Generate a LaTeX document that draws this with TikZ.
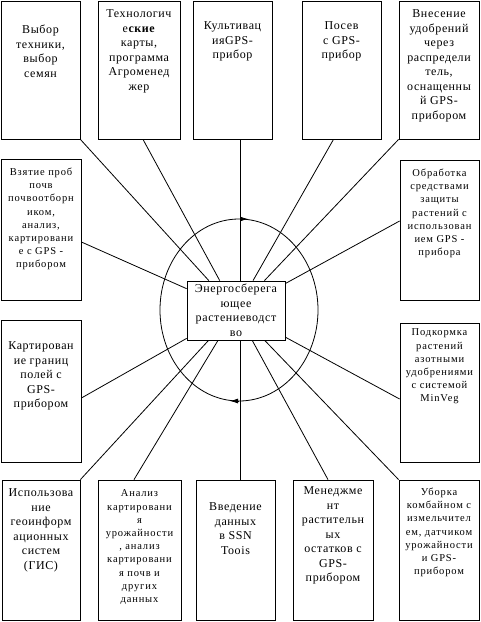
\documentclass[tikz,border=0pt]{standalone}
\usepackage{fontspec}
\setmainfont{Liberation Serif}
\newfontfamily\bigfont[LetterSpace=5]{Liberation Serif}
\newfontfamily\smallfont[LetterSpace=8]{Liberation Serif}
\usepackage{tikz}
\usetikzlibrary{arrows.meta,positioning}

\begin{document}
\begin{tikzpicture}[x=1pt,y=-1pt,line width=0.8pt,
    obox/.style={draw,rectangle,minimum width=79pt,minimum height=140pt,inner sep=0pt},
    btxt/.style={align=center,inner sep=0pt,font=\bigfont\fontsize{12}{14.5}\selectfont},
    stxt/.style={align=center,inner sep=0pt,font=\smallfont\fontsize{10.5}{13.2}\selectfont}]
  \useasboundingbox (0,0) rectangle (480,622);

  % top row
  \node[obox,minimum height=138pt] (t1) at (40.5,70) {};
  \node[btxt,below=24pt of t1.north] (t1x) {Выбор\\техники,\\выбор\\семян};
  \node[obox,minimum width=82pt,minimum height=138pt] (t2) at (139,70) {};
  \node[btxt,below=9pt of t2.north] (t2x) {Технологич\\е\textbf{ские}\\карты,\\программа\\Агроменед\\жер};
  \node[obox,minimum height=138pt] (t3) at (232.5,70) {};
  \node[btxt,below=21pt of t3.north] (t3x) {Культивац\\ияGPS-\\прибор};
  \node[obox,minimum height=138pt] (t4) at (341.5,70) {};
  \node[btxt,below=21pt of t4.north] (t4x) {Посев\\с GPS-\\прибор};
  \node[obox,minimum width=80pt,minimum height=138pt] (t5) at (439,70) {};
  \node[btxt,below=9pt of t5.north] (t5x) {Внесение\\удобрений\\через\\распредели\\тель,\\оснащенны\\й GPS-\\прибором};

  % left and right columns
  \node[obox,minimum width=80pt,minimum height=141pt] (l1) at (41,229.5) {};
  \node[stxt,below=9pt of l1.north] (l1x) {Взятие проб\\почв\\почвоотборн\\иком,\\анализ,\\картировани\\е с GPS -\\прибором};
  \node[obox,minimum width=80pt,minimum height=142pt] (l2) at (41,391) {};
  \node[btxt,below=22pt of l2.north] (l2x) {Картирован\\ие границ\\полей с\\GPS-\\прибором};
  \node[obox] (r1) at (439.5,230) {};
  \node[stxt,below=9pt of r1.north] (r1x) {Обработка\\средствами\\защиты\\растений с\\использован\\ием GPS -\\прибора};
  \node[obox,minimum height=139pt] (r2) at (439.5,392.5) {};
  \node[stxt,below=6pt of r2.north] (r2x) {Подкормка\\растений\\азотными\\удобрениями\\с системой\\MinVeg};

  % bottom row
  \node[obox,minimum width=78pt] (b1) at (41,550) {};
  \node[btxt,below=9pt of b1.north] (b1x) {Использова\\ние\\геоинформ\\ационных\\систем\\(ГИС)};
  \node[obox,minimum width=83pt] (b2) at (139.5,550) {};
  \node[stxt,below=10pt of b2.north] (b2x) {Анализ\\картировани\\я\\урожайности\\, анализ\\картировани\\я почв и\\других\\данных};
  \node[obox] (b3) at (235.5,550) {};
  \node[btxt,below=23pt of b3.north] (b3x) {Введение\\данных\\в SSN\\Toois};
  \node[obox,minimum width=80pt] (b4) at (333,550) {};
  \node[btxt,below=7pt of b4.north] (b4x) {Менеджме\\нт\\растительн\\ых\\остатков с\\GPS-\\прибором};
  \node[obox,minimum width=80pt] (b5) at (439,550) {};
  \node[stxt,below=8pt of b5.north] (b5x) {Уборка\\комбайном с\\измельчител\\ем, датчиком\\урожайности\\и GPS-\\прибором};

  % centre
  \draw (239,310) ellipse [x radius=79, y radius=91];
  \node[obox,fill=white,minimum width=98pt,minimum height=59pt,btxt] (c) at (236,310.5)
    {Энергосберега\\ющее\\растениеводст\\во};

  % connectors
  \draw (t1.south east) -- (c);
  \draw ([xshift=4pt]t2.south) -- (c);
  \draw ([xshift=7.5pt]t3.south) -- ([xshift=7.5pt]t3.south |- c.north);
  \draw ([xshift=-8pt]t4.south) -- (c);
  \draw (t5.south west) -- (c);
  \draw ([yshift=-12.5pt]l1.east) -- (c);
  \draw ([yshift=-7pt]l2.east) -- (c);
  \draw ([yshift=9pt]r1.west) -- (c);
  \draw ([yshift=-6.5pt]r2.west) -- (c);
  \draw (b1.north east) -- (c);
  \draw ([xshift=-5.5pt]b2.north) -- (c);
  \draw ([xshift=4.5pt]b3.north) -- ([xshift=4.5pt]b3.north |- c.south);
  \draw ([xshift=-5pt]b4.north) -- (c);
  \draw (b5.north west) -- (c);

  % arrows on the ring
  \draw[-{Latex[length=8pt,width=5pt]}] (240,219) -- (248,219);
  \draw[-{Latex[length=8pt,width=5pt]}] (238,401) -- (230,401);
\end{tikzpicture}
\end{document}
